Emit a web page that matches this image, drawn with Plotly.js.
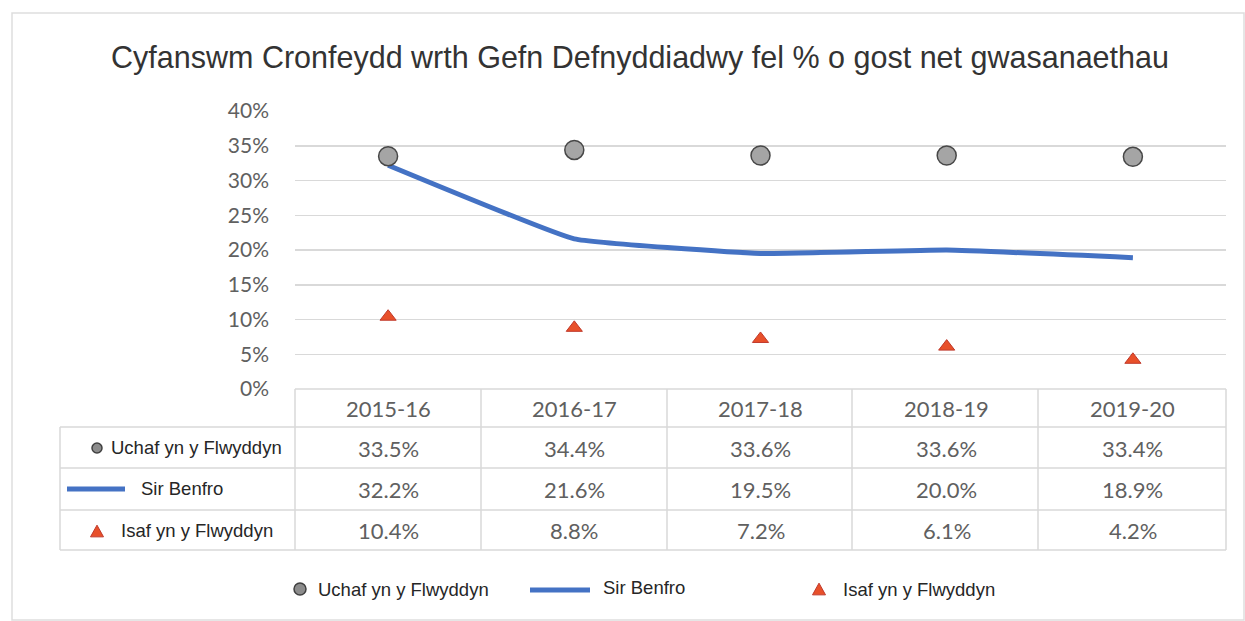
<!DOCTYPE html>
<html>
<head>
<meta charset="utf-8">
<script src="https://cdn.plot.ly/plotly-3.0.1.min.js"></script>
<style>html,body{margin:0;padding:0;background:#fff}#chart{width:1245px;height:621px}</style>
</head>
<body>
<div id="chart"></div>
<script>
const categories = ['2015-16', '2016-17', '2017-18', '2018-19', '2019-20'];
const uchafValues = [33.5, 34.4, 33.6, 33.6, 33.4];
const sirBenfroValues = [32.2, 21.6, 19.5, 20.0, 18.9];
const isafValues = [10.4, 8.8, 7.2, 6.1, 4.2];
const seriesNames = ['Uchaf yn y Flwyddyn', 'Sir Benfro', 'Isaf yn y Flwyddyn'];
const titleText = 'Cyfanswm Cronfeydd wrth Gefn Defnyddiadwy fel % o gost net gwasanaethau';

const W = 1245, H = 621;
const L = 295, R = 19, T = 111, B = 232;
const PW = W - L - R, PH = H - T - B;
const px = v => (v - L) / PW;
const py = v => (H - B - v) / PH;

const grey = '#606060';
const gridC = '#d9d9d9';
const blue = '#4472c4';
const orange = '#e8502a';
const circFill = '#a5a5a5';
const tableFont = {family: 'Lato, "Liberation Sans", sans-serif', size: 22, color: grey};
const labelFont = {family: '"Liberation Sans", Arial, sans-serif', size: 18.5, color: '#262626'};

const xIdx = categories.map((c, i) => i);

const traces = [
  {x: xIdx, y: sirBenfroValues, name: seriesNames[1], type: 'scatter', mode: 'lines',
   line: {color: blue, width: 5, shape: 'spline', smoothing: 0.3}, showlegend: false, cliponaxis: false},
  {x: xIdx, y: uchafValues, name: seriesNames[0], type: 'scatter', mode: 'markers',
   marker: {symbol: 'circle', size: 19, color: circFill, line: {color: '#474747', width: 1.5}}, showlegend: false, cliponaxis: false},
  {x: xIdx, y: isafValues, name: seriesNames[2], type: 'scatter', mode: 'markers',
   marker: {symbol: 'triangle-up', size: 14, color: orange, line: {color: '#c0392b', width: 1}}, showlegend: false, cliponaxis: false}
];

const shapes = [];
const annotations = [];
const lineC = '#d9d9d9';
function hline(x0, x1, y, c) { shapes.push({type: 'line', xref: 'paper', yref: 'paper', x0: px(x0), x1: px(x1), y0: py(y), y1: py(y), line: {color: c || lineC, width: 1.5}}); }
function vline(x, y0, y1, c) { shapes.push({type: 'line', xref: 'paper', yref: 'paper', x0: px(x), x1: px(x), y0: py(y0), y1: py(y1), line: {color: c || lineC, width: 1.5}}); }

// outer frame
shapes.push({type: 'rect', xref: 'paper', yref: 'paper', x0: px(12), x1: px(1244), y0: py(13), y1: py(620), line: {color: '#dedede', width: 1.5}});

// table grid
const colEdges = [295, 481, 667, 852, 1038, 1226];
const rowEdges = [389, 427, 468, 510, 550];
hline(295, 1226, 389);
for (let r = 1; r < rowEdges.length; r++) hline(60, 1226, rowEdges[r]);
colEdges.forEach(x => vline(x, 389, 550));
vline(60, 427, 550);

// header labels
const headerY = 408;
const rowY = [448, 489, 530];
categories.forEach((c, i) => {
  annotations.push({text: c, x: i, xref: 'x', y: py(headerY), yref: 'paper', showarrow: false, font: tableFont, xanchor: 'center', yanchor: 'middle'});
});
const allSeries = [uchafValues, sirBenfroValues, isafValues];
allSeries.forEach((vals, r) => {
  vals.forEach((v, i) => {
    annotations.push({text: v.toFixed(1) + '%', x: i, xref: 'x', y: py(rowY[r]), yref: 'paper', showarrow: false, font: tableFont, xanchor: 'center', yanchor: 'middle'});
  });
});

// symbols
function circleAt(cx, cy, r, fill, lc) {
  shapes.push({type: 'circle', xref: 'paper', yref: 'paper', x0: px(cx - r), x1: px(cx + r), y0: py(cy + r), y1: py(cy - r), fillcolor: fill, line: {color: lc, width: 1.5}});
}
function triAt(cx, cy, s) {
  const h = s * 0.9;
  const p = `M ${px(cx - s / 2)} ${py(cy + h / 2)} L ${px(cx + s / 2)} ${py(cy + h / 2)} L ${px(cx)} ${py(cy - h / 2)} Z`;
  shapes.push({type: 'path', xref: 'paper', yref: 'paper', path: p, fillcolor: orange, line: {color: '#c0392b', width: 1}});
}
function lineSym(x0, x1, y) {
  shapes.push({type: 'line', xref: 'paper', yref: 'paper', x0: px(x0), x1: px(x1), y0: py(y), y1: py(y), line: {color: blue, width: 5}});
}

// row labels in table
circleAt(97, 448, 5, '#8c8c8c', '#404040');
annotations.push({text: seriesNames[0], x: px(109), xref: 'paper', y: py(447), yref: 'paper', showarrow: false, font: labelFont, xanchor: 'left', yanchor: 'middle'});
lineSym(67, 125, 489);
annotations.push({text: seriesNames[1], x: px(139), xref: 'paper', y: py(488), yref: 'paper', showarrow: false, font: labelFont, xanchor: 'left', yanchor: 'middle'});
triAt(97, 531, 13);
annotations.push({text: seriesNames[2], x: px(119), xref: 'paper', y: py(530), yref: 'paper', showarrow: false, font: labelFont, xanchor: 'left', yanchor: 'middle'});

// bottom legend
circleAt(300, 589, 6, '#8c8c8c', '#404040');
annotations.push({text: seriesNames[0], x: px(316), xref: 'paper', y: py(589), yref: 'paper', showarrow: false, font: labelFont, xanchor: 'left', yanchor: 'middle'});
lineSym(530, 590, 590);
annotations.push({text: seriesNames[1], x: px(601), xref: 'paper', y: py(587), yref: 'paper', showarrow: false, font: labelFont, xanchor: 'left', yanchor: 'middle'});
triAt(819, 589, 13);
annotations.push({text: seriesNames[2], x: px(841), xref: 'paper', y: py(589), yref: 'paper', showarrow: false, font: labelFont, xanchor: 'left', yanchor: 'middle'});

const layout = {
  width: W, height: H,
  margin: {l: L, r: R, t: T, b: B, pad: 0},
  paper_bgcolor: '#ffffff', plot_bgcolor: '#ffffff',
  title: {text: titleText, x: 640 / W, xref: 'container', xanchor: 'center', y: 1 - 57 / H, yref: 'container', yanchor: 'middle',
          font: {family: '"Liberation Sans", Arial, sans-serif', size: 30.5, color: '#333333'}},
  xaxis: {range: [-0.5, 4.5], showticklabels: false, showgrid: false, zeroline: false, showline: false, ticks: '', fixedrange: true},
  yaxis: {range: [0, 40], dtick: 5, tick0: 0, ticksuffix: '%', showgrid: true, gridcolor: gridC, gridwidth: 1.5,
          zeroline: false, showline: false, ticks: '', ticklabelstandoff: 25,
          tickfont: {family: 'Lato, "Liberation Sans", sans-serif', size: 21, color: grey}, fixedrange: true},
  shapes: shapes,
  annotations: annotations,
  showlegend: false
};

Plotly.newPlot('chart', traces, layout, {displayModeBar: false, staticPlot: true});
</script>
</body>
</html>
